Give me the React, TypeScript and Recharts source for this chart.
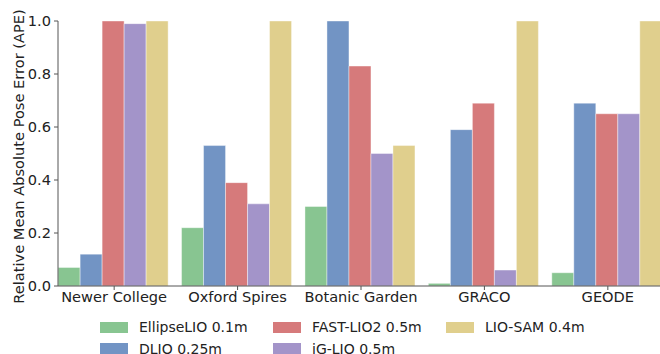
import React from "react";
import { BarChart, Bar, XAxis, YAxis } from "recharts";

const CATEGORIES = ["Newer College", "Oxford Spires", "Botanic Garden", "GRACO", "GEODE"];

const ELLIPSE_LIO = [0.07, 0.22, 0.3, 0.01, 0.05];
const DLIO = [0.12, 0.53, 1.0, 0.59, 0.69];
const FAST_LIO2 = [1.0, 0.39, 0.83, 0.69, 0.65];
const IG_LIO = [0.99, 0.31, 0.5, 0.06, 0.65];
const LIO_SAM = [1.0, 1.0, 0.53, 1.0, 1.0];

const Y_TICKS = [0, 0.2, 0.4, 0.6, 0.8, 1.0];

const SERIES = [
  { key: "ellipse", name: "EllipseLIO 0.1m", color: "#88c591", values: ELLIPSE_LIO },
  { key: "dlio", name: "DLIO 0.25m", color: "#7294c4", values: DLIO },
  { key: "fastlio", name: "FAST-LIO2 0.5m", color: "#d67a7b", values: FAST_LIO2 },
  { key: "iglio", name: "iG-LIO 0.5m", color: "#a394c9", values: IG_LIO },
  { key: "liosam", name: "LIO-SAM 0.4m", color: "#e0cf8d", values: LIO_SAM },
];

const FONT = '"DejaVu Sans", sans-serif';
const FS = 14.6;
const AXIS = "#555555";

const rows = CATEGORIES.map((name, i) => {
  const row: Record<string, number | string> = { idx: i, name };
  SERIES.forEach((s) => {
    row[s.key] = s.values[i];
  });
  return row;
});

// legend is filled column-wise like matplotlib's ncol=3
const LEGEND_COLS = [[0, 1], [2, 3], [4]];
const LEGEND_X = [100, 273, 446];

function ChartLegend() {
  return (
    <div style={{ position: "absolute", left: 0, top: 317, width: 660, fontFamily: FONT, fontSize: 14, color: "#222" }}>
      {LEGEND_COLS.map((col, c) =>
        col.map((si, r) => (
          <div
            key={SERIES[si].key}
            style={{
              position: "absolute",
              left: LEGEND_X[c],
              top: r * 21.5,
              display: "flex",
              alignItems: "center",
              height: 20,
              whiteSpace: "nowrap",
            }}
          >
            <span style={{ display: "inline-block", width: 28, height: 11, background: SERIES[si].color, marginRight: 11 }} />
            <span>{SERIES[si].name}</span>
          </div>
        ))
      )}
    </div>
  );
}

export default function App() {
  return (
    <div style={{ position: "absolute", left: 0, top: 0, width: 660, height: 354, overflow: "hidden", background: "#fff" }}>
      <BarChart
        width={664}
        height={354}
        data={rows}
        margin={{ top: 21, right: 0, left: 0, bottom: 38 }}
        barGap={0}
        barCategoryGap="4.6%"
      >
        <XAxis
          type="number"
          dataKey="idx"
          domain={[-0.455, 4.455]}
          ticks={[0, 1, 2, 3, 4]}
          allowDataOverflow
          tickFormatter={(v) => CATEGORIES[Number(v)] ?? ""}
          tick={{ fill: "#222", fontSize: FS, fontFamily: FONT }}
          tickSize={4}
          tickMargin={2}
          stroke={AXIS}
          height={30}
          interval={0}
        />
        <YAxis
          type="number"
          domain={[0, 1]}
          ticks={Y_TICKS}
          tickFormatter={(v) => Number(v).toFixed(1)}
          tick={{ fill: "#222", fontSize: FS, fontFamily: FONT }}
          tickSize={4}
          tickMargin={3}
          stroke={AXIS}
          width={58}
          label={(props: any) => {
            const vb = props.viewBox ?? { y: 21, height: 265 };
            const cy = vb.y + vb.height / 2 + 3;
            return (
              <text
                x={18}
                y={cy}
                transform={`rotate(-90, 18, ${cy})`}
                textAnchor="middle"
                dominantBaseline="central"
                fontFamily={FONT}
                fontSize={FS}
                fill="#222"
              >
                Relative Mean Absolute Pose Error (APE)
              </text>
            );
          }}
        />
        {SERIES.map((s) => (
          <Bar
            key={s.key}
            dataKey={s.key}
            name={s.name}
            fill={s.color}
            stroke="#ffffff"
            strokeOpacity={0.5}
            strokeWidth={0.8}
            isAnimationActive={false}
          />
        ))}
      </BarChart>
      <ChartLegend />
    </div>
  );
}
